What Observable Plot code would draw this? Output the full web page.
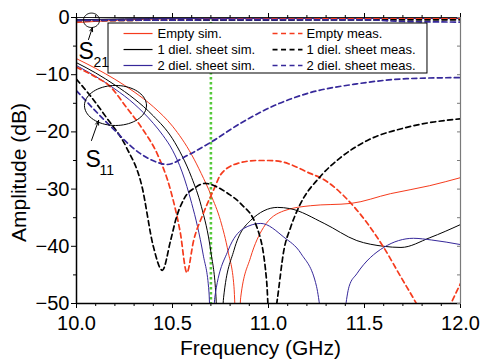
<!DOCTYPE html>
<html><head><meta charset="utf-8">
<script src="https://cdn.jsdelivr.net/npm/d3@7"></script>
<script src="https://cdn.jsdelivr.net/npm/@observablehq/plot@0.6"></script>
<style>
html,body{margin:0;padding:0;background:#fff;}
#chart svg{display:block;font-family:"Liberation Sans",Arial,Helvetica,sans-serif;}
</style></head><body><div id="chart"></div>
<script>
// ---- Data: [frequency (GHz), amplitude (dB)] ----
// S11 curves
const emptySimS11 = [[10.0,-7.2],[10.1,-8.9],[10.2,-10.8],[10.3,-13.0],[10.4,-15.6],[10.5,-19.0],[10.6,-24.0],[10.65,-27.3],[10.7,-31],[10.75,-35.5],[10.79,-41],[10.82,-47],[10.84,-62],[10.855,-49],[10.906,-42],[10.974,-36.7],[11.08,-33.8],[11.22,-32.9],[11.43,-32.5],[11.635,-30.8],[11.84,-29.4],[12.0,-28.0]];
const diel1SimS11 = [[10.0,-7.9],[10.1,-9.7],[10.2,-11.8],[10.3,-14.2],[10.4,-17.2],[10.5,-21.2],[10.55,-24.2],[10.6,-28],[10.65,-33],[10.7,-41],[10.725,-48],[10.745,-62],[10.766,-49],[10.82,-40.7],[10.906,-35.5],[11.047,-33.2],[11.11,-33.4],[11.29,-36],[11.46,-39],[11.6,-40],[11.69,-40.2],[11.84,-38.5],[12.0,-36.2]];
const diel2SimS11 = [[10.0,-8.4],[10.1,-10.3],[10.2,-12.5],[10.3,-15.1],[10.4,-18.5],[10.45,-20.6],[10.5,-23.2],[10.55,-27],[10.6,-32.5],[10.63,-36.5],[10.66,-41.5],[10.69,-48],[10.705,-62],[10.72,-49],[10.79,-40.7],[10.87,-36.9],[10.96,-36],[11.08,-38.4],[11.17,-41.3],[11.25,-47],[11.335,-66],[11.42,-47],[11.46,-44.8],[11.6,-40.2],[11.755,-38.6],[11.85,-38.9],[12.0,-39.7]];
const emptyMeasS11 = [[10.0,-8.7],[10.1,-10.4],[10.17,-11.9],[10.26,-15.7],[10.35,-19.8],[10.42,-23.8],[10.49,-30.2],[10.54,-37.5],[10.575,-44.6],[10.61,-39],[10.66,-34.3],[10.72,-29.7],[10.75,-27.5],[10.84,-25.5],[10.94,-25],[11.0,-25],[11.08,-25.3],[11.115,-25.7],[11.22,-27.3],[11.27,-28],[11.43,-32.5],[11.6,-40.2],[11.69,-45.4],[11.77,-50],[11.86,-56],[11.95,-50],[12.0,-46.5]];
const diel1MeasS11 = [[10.0,-10.8],[10.07,-13.6],[10.156,-17.5],[10.26,-22.7],[10.34,-29.4],[10.40,-40],[10.447,-44.2],[10.49,-39],[10.52,-35],[10.56,-31.7],[10.62,-29.7],[10.67,-29.0],[10.73,-29.6],[10.79,-30.8],[10.854,-32.5],[10.94,-36.7],[10.99,-46],[11.01,-57],[11.045,-49.5],[11.08,-40.7],[11.115,-36.7],[11.16,-33],[11.27,-27.8],[11.375,-24.5],[11.515,-21.5],[11.72,-19.2],[12.0,-17.7]];
const diel2MeasS11 = [[10.0,-12.8],[10.177,-19.0],[10.333,-23.8],[10.4375,-25.5],[10.47,-25.7],[10.578,-24.1],[10.70,-21.8],[10.854,-18.5],[11.03,-15.4],[11.2,-13.3],[11.46,-11.6],[11.72,-10.7],[12.0,-10.5]];
// S21 curves
const emptySimS21 = [[10.0,-0.9],[10.2,-0.5],[10.5,-0.2],[11.0,-0.1],[12.0,-0.1]];
const diel1SimS21 = [[10.0,-0.4],[10.5,-0.15],[12.0,-0.1]];
const diel2SimS21 = [[10.0,-0.5],[10.5,-0.2],[12.0,-0.15]];
const emptyMeasS21 = [[10.0,-0.6],[11.0,-0.3],[12.0,-0.2]];
const diel1MeasS21 = [[10.0,-0.5],[12.0,-0.4]];
const diel2MeasS21 = [[10.0,-0.5],[11.5,-0.4],[11.7,-0.7],[12.0,-0.8]];
// Series names (legend text)
const seriesNames = ["Empty sim.","1 diel. sheet sim.","2 diel. sheet sim.","Empty meas.","1 diel. sheet meas.","2 diel. sheet meas."];
const seriesS11 = [emptySimS11, diel1SimS11, diel2SimS11, emptyMeasS11, diel1MeasS11, diel2MeasS11];
const seriesS21 = [emptySimS21, diel1SimS21, diel2SimS21, emptyMeasS21, diel1MeasS21, diel2MeasS21];
// Marker frequency (green dotted line)
const markerFreq = [10.7];
// Tick labels
const xMajor = [10.0,10.5,11.0,11.5,12.0];
const xMinor = [10.1,10.2,10.3,10.4,10.6,10.7,10.8,10.9,11.1,11.2,11.3,11.4,11.6,11.7,11.8,11.9];
const yMajor = [0,-10,-20,-30,-40,-50];
const yMinor = [-5,-15,-25,-35,-45];
// Annotation labels
const annoLabels = [{main:"S", sub:"21"},{main:"S", sub:"11"}];

// ---- Styles ----
const RED = "#f53b1d", BLUE = "#36289a", BLACK = "#000000";
const styles = [
  {stroke:RED, dash:null, w:1},
  {stroke:BLACK, dash:null, w:1},
  {stroke:BLUE, dash:null, w:1},
  {stroke:RED, dash:"5,3.5", w:1.7},
  {stroke:BLACK, dash:"5,3.5", w:1.7},
  {stroke:BLUE, dash:"5,3.5", w:1.7}
];
// legend layout in data units
const legRows = [-2.8, -5.6, -8.39];
const legCols = [{a:10.245, b:10.396, t:10.422},{a:11.021, b:11.177, t:11.198}];
const legBox = {x1:10.1667, x2:11.828, y1:-1.05, y2:-9.79};

// annotation geometry (data units)
const ellipses = [
  {cx:10.078, cy:-0.49, rx:0.0417, ry:1.26},
  {cx:10.203, cy:-15.38, rx:0.1615, ry:3.5}
];
const arrows = [
  {x1:10.0625, y1:-3.85, x2:10.083, y2:-1.75},
  {x1:10.078, y1:-21.5, x2:10.115, y2:-18.0}
];
const labelPos = [
  {mx:10.0104, my:-7.17, sx:10.0885, sy:-8.74},
  {mx:10.047, my:-26.05, sx:10.12, sy:-27.45}
];

function ellipsePts(e){
  const pts=[];
  for(let i=0;i<=72;i++){const t=i/72*2*Math.PI; pts.push([e.cx+e.rx*Math.cos(t), e.cy+e.ry*Math.sin(t)]);}
  return pts;
}

const marks = [];
// green marker line
marks.push(Plot.ruleX(markerFreq, {stroke:"#55c93a", strokeWidth:2.6, strokeDasharray:"2.4,2.6"}));
// curves
seriesS11.forEach((d,i)=>{
  const s=styles[i];
  const opt={x:d=>d[0], y:d=>d[1], stroke:s.stroke, strokeWidth:s.w, curve:"monotone-x", clip:true};
  if(s.dash) opt.strokeDasharray=s.dash;
  marks.push(Plot.line(d, opt));
  marks.push(Plot.line(seriesS21[i], opt));
});
// frame
marks.push(Plot.ruleX([12], {stroke:"#7a7a7a", strokeWidth:1.2}));
marks.push(Plot.ruleY([0], {stroke:"#222", strokeWidth:1.2}));
marks.push(Plot.ruleY([-50], {stroke:"#000", strokeWidth:1.5}));
marks.push(Plot.ruleX([10], {stroke:"#000", strokeWidth:1.5}));
// legend
marks.push(Plot.rect([legBox], {x1:"x1", x2:"x2", y1:"y1", y2:"y2", fill:"white", stroke:"#000", strokeWidth:1}));
seriesNames.forEach((name,i)=>{
  const s=styles[i], col=legCols[Math.floor(i/3)], row=legRows[i%3];
  const o={x1:col.a, x2:col.b, y1:row, y2:row, stroke:s.stroke, strokeWidth:s.w===1?1.2:1.7};
  if(s.dash) o.strokeDasharray="5,3.5";
  marks.push(Plot.link([0], o));
  marks.push(Plot.text([name], {x:col.t, y:row, text:d=>d, textAnchor:"start", lineAnchor:"middle", fontSize:13, fill:"#000"}));
});
// annotations
ellipses.forEach(e=>marks.push(Plot.line(ellipsePts(e), {x:d=>d[0], y:d=>d[1], stroke:"#000", strokeWidth:1})));
marks.push(Plot.arrow(arrows, {x1:"x1", y1:"y1", x2:"x2", y2:"y2", stroke:"#000", strokeWidth:1, headLength:7, headAngle:40}));
annoLabels.forEach((l,i)=>{
  const p=labelPos[i];
  marks.push(Plot.text([l.main], {x:p.mx, y:p.my, text:d=>d, textAnchor:"start", lineAnchor:"bottom", fontSize:23, fill:"#000"}));
  marks.push(Plot.text([l.sub], {x:p.sx, y:p.sy, text:d=>d, textAnchor:"start", lineAnchor:"bottom", fontSize:14, fill:"#000"}));
});
// axes
marks.push(Plot.axisX({ticks:xMajor, tickSize:5, tickPadding:7, tickFormat:d3.format(".1f"), fontSize:20, label:null}));
marks.push(Plot.axisX({ticks:xMinor, tickSize:3, tickFormat:()=>"", label:null}));
marks.push(Plot.axisX({anchor:"top", ticks:xMajor, tickSize:5, tickFormat:()=>"", label:null}));
marks.push(Plot.axisX({anchor:"top", ticks:xMinor, tickSize:3, tickFormat:()=>"", label:null}));
marks.push(Plot.axisY({ticks:yMajor, tickSize:5, tickPadding:2, tickFormat:d3.format("d"), fontSize:20, label:null}));
marks.push(Plot.axisY({ticks:yMinor, tickSize:3, tickFormat:()=>"", label:null}));
marks.push(Plot.axisY({anchor:"right", ticks:yMajor.concat(yMinor), tickSize:-4, stroke:"#7a7a7a", tickFormat:()=>"", label:null}));
// axis titles
marks.push(Plot.text(["Frequency (GHz)"], {frameAnchor:"bottom", text:d=>d, textAnchor:"middle", lineAnchor:"bottom", dx:-8, dy:51, fontSize:21, fill:"#000"}));
marks.push(Plot.text(["Amplitude (dB)"], {frameAnchor:"left", text:d=>d, textAnchor:"middle", lineAnchor:"middle", rotate:-90, dx:-57, dy:12, fontSize:21, fill:"#000"}));

const chart = Plot.plot({
  width:482, height:360,
  marginLeft:76, marginRight:22, marginTop:17, marginBottom:57,
  x:{domain:[10,12]},
  y:{domain:[-50,0]},
  style:{fontFamily:'"Liberation Sans",Arial,sans-serif', background:"white", color:"black", overflow:"visible"},
  marks
});
document.getElementById("chart").appendChild(chart);
</script>
</body></html>
